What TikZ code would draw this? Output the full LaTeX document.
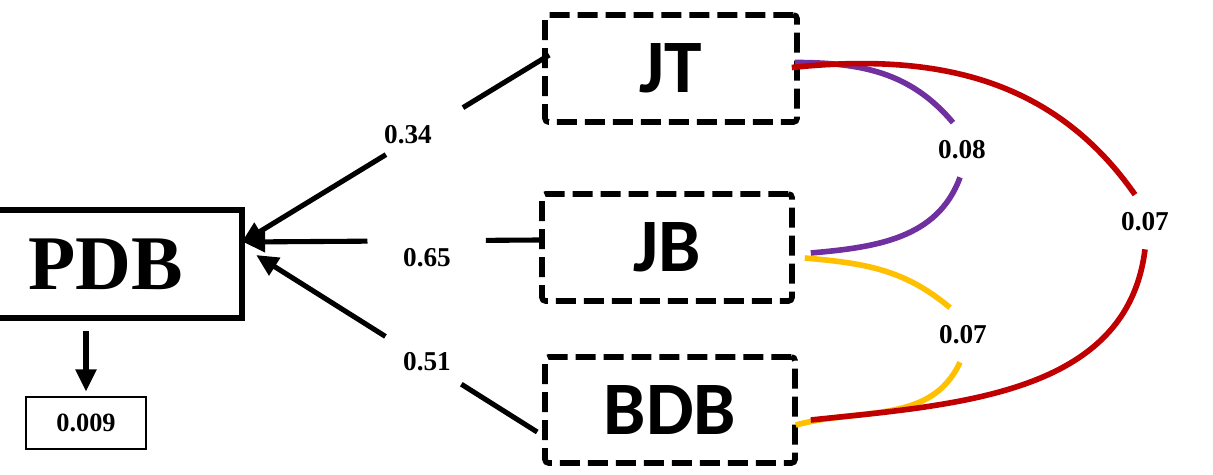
\documentclass[tikz,border=0pt]{standalone}
\usepackage{fontspec}
\setmainfont{Liberation Serif}
\newfontfamily\calibri{Carlito}
\usetikzlibrary{arrows.meta, positioning, calc}

\definecolor{corrred}{RGB}{192,0,0}
\definecolor{corrpurple}{RGB}{112,48,160}
\definecolor{corryellow}{RGB}{255,192,0}

\begin{document}
\begin{tikzpicture}[
    x=0.02cm, y=0.02cm,
    outcome/.style={rectangle, draw, line width=3.6pt, minimum width=5.44cm, minimum height=2.16cm, font=\fontsize{44}{44}\selectfont\bfseries},
    factor/.style={rectangle, draw, dash pattern=on 0.4cm off 0.16cm, line width=3.2pt, rounded corners=2pt, minimum width=5cm, minimum height=2.14cm, font=\calibri\fontsize{43}{43}\selectfont\bfseries},
    resid/.style={rectangle, draw, line width=0.6pt, minimum width=2.4cm, minimum height=1.04cm, font=\fontsize{15}{15}\selectfont\bfseries},
    coef/.style={font=\fontsize{15.5}{15.5}\selectfont\bfseries, inner sep=0pt},
    corr/.style={coef, minimum height=1.08cm},
    link/.style={line width=2.9pt},
    arrow/.style={link, -{Triangle[length=4.4mm, width=4mm]}},
    cov/.style={line width=3.2pt}
]
\useasboundingbox (0,0) rectangle (1213,474);

% Outcome and residual
\node[outcome] (PDB) at (106,210) {PDB};
\node[resid] (res) at (86,51) {0.009};

% Predictors
\node[factor, minimum width=5.04cm] (JT) at (671,405.5) {JT};
\node[factor] (JB) at (667,226.5) {JB};
\node[factor, minimum height=2.12cm] (BDB) at (670,64) {BDB};

% Path coefficients
\node[coef] (c34) at (408,339) {0.34};
\node[coef] (c65) at (427,216) {0.65};
\node[coef] (c51) at (427,112) {0.51};

% Correlations
\node[corr] (c08) at (962,324) {0.08};
\node[corr] (c07a) at (963,139) {0.07};
\node[corr] (c07b) at (1145,252) {0.07};

% Paths to PDB (split round the coefficient)
\path ($(JT.west)+(7,13.5)$) coordinate (jt0) -- ($(PDB.east)+(-4,21)$) coordinate (jt1)
    coordinate[pos=0.28] (jta) coordinate[pos=0.53] (jtb);
\path ($(JB.west)+(0,7.5)$) coordinate (jb0) -- ($(PDB.east)+(-2,22)$) coordinate (jb1)
    coordinate[pos=0.18] (jba) coordinate[pos=0.58] (jbb);
\path ($(BDB.west)+(-5,-22)$) coordinate (bd0) -- ($(PDB.east)+(11,9)$) coordinate (bd1)
    coordinate[pos=0.27] (bda) coordinate[pos=0.54] (bdb);

\draw[link] (jt0) -- (jta);
\draw[arrow] (jtb) -- (jt1);
\draw[link] (jb0) -- (jba);
\draw[arrow] (jbb) -- (jb1);
\draw[link] (bd0) -- (bda);
\draw[arrow] (bdb) -- (bd1);

\draw[arrow, shorten <=0.2cm, shorten >=0.1cm] (res.north |- PDB.south) -- (res.north);

% Covariances
\draw[cov, corrpurple] ($(JT.east)+(-5,6)$) to[out=0, in=130] ($(c08.north)+(-9,0)$);
\draw[cov, corrpurple] ($(c08.south)+(-2,0)$) to[out=-110, in=5] ($(JB.east)+(16,-5.5)$);
\draw[cov, corryellow] ($(JB.east)+(10,-10.5)$) to[out=-5, in=140] ($(c07a.north)+(-13,0)$);
\draw[cov, corryellow] ($(c07a.south)+(-3,0)$) to[out=-115, in=15] ($(BDB.east)+(-2,-15)$);
\draw[cov, corrred] ($(JT.east)+(-8,1)$) to[out=6, in=125] ($(c07b.north)+(-10,0)$);
\draw[cov, corrred] (c07b.south) to[out=-97, in=6] ($(BDB.east)+(13,-10)$);

\end{tikzpicture}
\end{document}
